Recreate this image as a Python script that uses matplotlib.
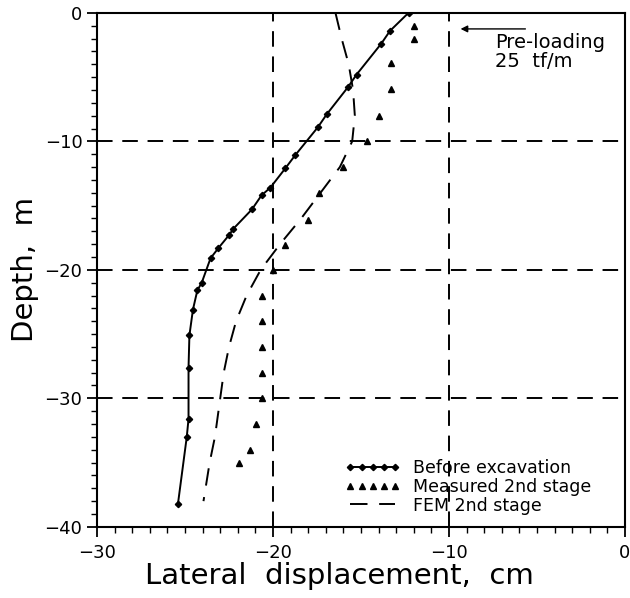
import matplotlib
matplotlib.use("Agg")
import matplotlib.pyplot as plt
from matplotlib.ticker import MultipleLocator

# Before excavation (solid line with markers)
before_x = [-12.3, -13.35, -13.85, -15.25, -15.75, -16.95, -17.45, -18.75, -19.3, -20.15, -20.65,
            -21.2, -22.25, -22.5, -23.1, -23.55, -24.05, -24.3, -24.55, -24.75, -24.8, -24.8, -24.9, -25.4]
before_y = [0.0, -1.4, -2.4, -4.8, -5.8, -7.9, -8.9, -11.1, -12.1, -13.6, -14.2,
            -15.3, -16.8, -17.3, -18.3, -19.1, -21.0, -21.6, -23.1, -25.1, -27.6, -31.6, -33.0, -38.2]

# Measured 2nd stage (triangles)
meas_x = [-12.0, -12.0, -13.3, -13.3, -13.95, -14.65, -16.0, -17.4, -18.0, -19.3, -20.0,
          -20.6, -20.6, -20.6, -20.6, -20.6, -20.95, -21.3, -21.95]
meas_y = [-1.0, -2.0, -3.9, -5.9, -8.0, -10.0, -12.0, -14.0, -16.1, -18.1, -20.0,
          -22.0, -24.0, -26.0, -28.0, -30.0, -32.0, -34.0, -35.0]

# FEM 2nd stage (dashed)
fem_x = [-16.45, -16.1, -15.7, -15.45, -15.35, -15.5, -16.2, -17.3, -18.4, -19.6, -20.7,
         -21.5, -22.1, -22.5, -22.8, -23.0, -23.3, -23.6, -23.95]
fem_y = [0.0, -2.0, -4.0, -6.0, -8.0, -10.0, -12.0, -14.0, -16.0, -18.0, -20.0,
         -22.0, -24.0, -26.0, -28.0, -30.0, -33.0, -35.0, -38.0]

x_ticks = [-30, -20, -10, 0]
y_ticks = [0, -10, -20, -30, -40]
grid_x = [-20, -10]
grid_y = [-10, -20, -30]

plt.rcParams['font.family'] = ['DejaVu Sans']
fig = plt.figure(figsize=(6.3, 5.98), dpi=100)
ax = fig.add_axes([0.154, 0.119, 0.838, 0.8595])

for gx in grid_x:
    ax.axvline(gx, color='black', lw=1.4, ls=(0, (8, 5)), zorder=1)
for gy in grid_y:
    ax.axhline(gy, color='black', lw=1.4, ls=(0, (8, 5)), zorder=1)

ax.plot(before_x, before_y, color='black', lw=1.4, marker='D', ms=3.2,
        label='Before excavation', zorder=3)
ax.plot(meas_x, meas_y, ls='none', color='black', marker='^', ms=4.5,
        label='Measured 2nd stage', zorder=3)
ax.plot(fem_x, fem_y, color='black', lw=1.4, ls=(0, (9, 6)),
        label='FEM 2nd stage', zorder=2)

ax.set_xlim(-30, 0)
ax.set_ylim(-40, 0)
ax.set_xticks(x_ticks)
ax.set_yticks(y_ticks)
ax.xaxis.set_minor_locator(MultipleLocator(1))
ax.yaxis.set_minor_locator(MultipleLocator(1))
ax.tick_params(which='major', direction='out', length=7, width=1.3, labelsize=13, colors='black')
ax.tick_params(axis='x', which='major', pad=5)
ax.tick_params(which='minor', direction='out', length=4, width=1.0)
for sp in ax.spines.values():
    sp.set_linewidth(1.5)

ax.set_xlabel('Lateral  displacement,  cm', fontsize=21, labelpad=0)
ax.xaxis.label.set_x(0.46)
ax.set_ylabel('Depth,  m', fontsize=21, labelpad=4)

leg = ax.legend(loc='lower left', bbox_to_anchor=(0.47, 0.024), frameon=False, fontsize=12.5,
                numpoints=5, handlelength=3.2, handletextpad=0.7, labelspacing=0.05,
                borderaxespad=0.0, borderpad=0.0)

ax.annotate('', xy=(-9.5, -1.25), xytext=(-5.5, -1.25),
            arrowprops=dict(arrowstyle='-|>', color='black', lw=1.0, mutation_scale=10))
ax.text(-7.4, -1.6, 'Pre-loading\n25  tf/m', fontsize=14, va='top', ha='left', linespacing=1.0)

fig.savefig('out.png', dpi=100)
